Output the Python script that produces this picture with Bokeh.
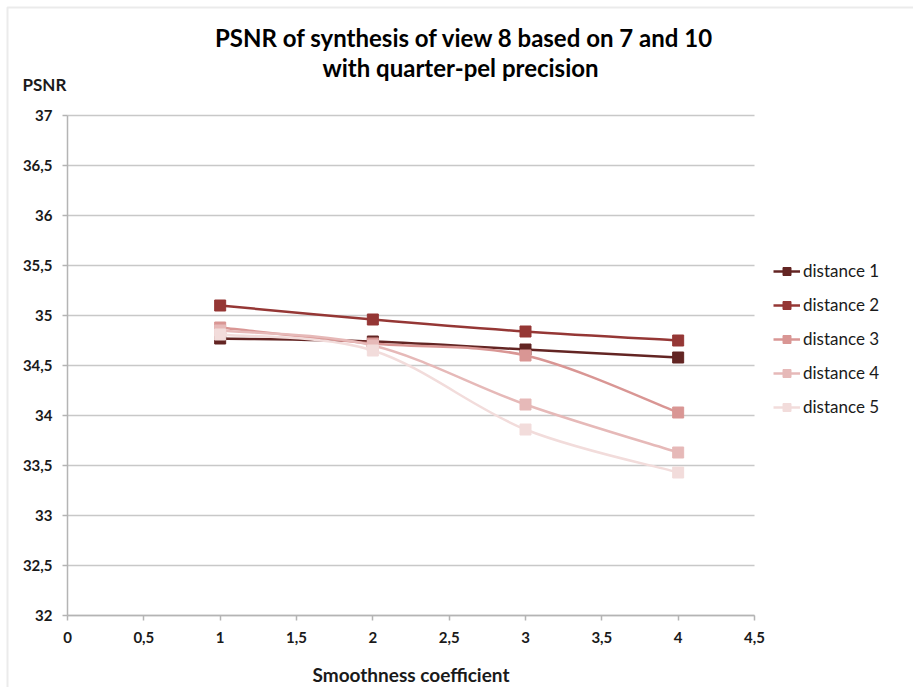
import numpy as np
from bokeh.plotting import figure
from bokeh.models import (Range1d, FixedTicker, Legend, LegendItem, Label,
                          BoxAnnotation, ColumnDataSource)
from bokeh.embed import file_html
from bokeh.resources import INLINE

# ---------------- data ----------------
title_line1 = "PSNR of synthesis of view 8 based on 7 and 10"
title_line2 = "with quarter-pel precision"
x_label = "Smoothness coefficient"
y_label = "PSNR"

smoothness = [1, 2, 3, 4]
series_names = ["distance 1", "distance 2", "distance 3", "distance 4", "distance 5"]
distance_1 = [34.77, 34.74, 34.66, 34.58]
distance_2 = [35.10, 34.96, 34.84, 34.75]
distance_3 = [34.88, 34.72, 34.60, 34.03]
distance_4 = [34.85, 34.70, 34.11, 33.63]
distance_5 = [34.81, 34.65, 33.86, 33.43]
series_values = [distance_1, distance_2, distance_3, distance_4, distance_5]
colors = ["#632523", "#953735", "#d99694", "#e6b9b8", "#f2dcdb"]

x_ticks = [0, 0.5, 1, 1.5, 2, 2.5, 3, 3.5, 4, 4.5]
x_tick_labels = ["0", "0,5", "1", "1,5", "2", "2,5", "3", "3,5", "4", "4,5"]
y_ticks = [32, 32.5, 33, 33.5, 34, 34.5, 35, 35.5, 36, 36.5, 37]
y_tick_labels = ["32", "32,5", "33", "33,5", "34", "34,5", "35", "35,5", "36", "36,5", "37"]

# ---------------- layout (pixels) ----------------
W, H = 913, 687
AX_L, AX_R, AX_T, AX_B = 67, 754, 115, 615   # plotting area inside the canvas
FONT = "Lato"
TXT = "#1a1a1a"

x0, x1 = x_ticks[0], x_ticks[-1]
y0, y1 = y_ticks[0], y_ticks[-1]
xpp = (x1 - x0) / (AX_R - AX_L)
ypp = (y1 - y0) / (AX_B - AX_T)

# the frame covers the whole canvas; axes are pinned at the data origin
p = figure(width=W, height=H, output_backend="svg", toolbar_location=None,
           x_range=Range1d(x0 - AX_L * xpp, x1 + (W - AX_R) * xpp),
           y_range=Range1d(y0 - (H - AX_B) * ypp, y1 + AX_T * ypp),
           min_border=0, title_location=None)
p.outline_line_color = None
p.background_fill_color = "white"
p.border_fill_color = "white"
p.xgrid.visible = False
p.ygrid.visible = False

for ax in (p.xaxis[0], p.yaxis[0]):
    ax.axis_line_color = "#b4b4b4"
    ax.axis_line_width = 1.5
    ax.major_tick_line_color = "#b4b4b4"
    ax.major_tick_line_width = 1.5
    ax.minor_tick_line_color = None
    ax.major_tick_in = 0
    ax.major_tick_out = 5
    ax.major_label_text_font = FONT
    ax.major_label_text_font_style = "bold"
    ax.major_label_text_font_size = "15px"
    ax.major_label_text_color = TXT

p.xaxis.fixed_location = y0
p.xaxis.bounds = (x0, x1)
p.xaxis.ticker = FixedTicker(ticks=x_ticks)
p.xaxis.major_label_overrides = {t: l for t, l in zip(x_ticks, x_tick_labels)}
p.xaxis.major_label_standoff = 11
p.xaxis.axis_label = x_label
p.xaxis.axis_label_text_font = FONT
p.xaxis.axis_label_text_font_style = "bold"
p.xaxis.axis_label_text_font_size = "19px"
p.xaxis.axis_label_text_color = TXT
p.xaxis.axis_label_standoff = 17

p.yaxis.fixed_location = x0
p.yaxis.bounds = (y0, y1)
p.yaxis.ticker = FixedTicker(ticks=y_ticks)
p.yaxis.major_label_overrides = {t: l for t, l in zip(y_ticks, y_tick_labels)}
p.yaxis.major_label_standoff = 10

# horizontal gridlines limited to the plotting area
p.segment(x0=[x0] * len(y_ticks), x1=[x1] * len(y_ticks), y0=y_ticks, y1=y_ticks,
          line_color="#c8c8c8", line_width=1.5, level="underlay")


def smooth_controls(xs, ys):
    """Cubic Bezier control points (Catmull-Rom) through the data points."""
    xs = np.asarray(xs, float)
    ys = np.asarray(ys, float)
    n = len(xs)
    px = np.concatenate([[xs[0]], xs, [xs[-1]]])
    py = np.concatenate([[ys[0]], ys, [ys[-1]]])
    out = dict(x0=[], y0=[], x1=[], y1=[], cx0=[], cy0=[], cx1=[], cy1=[])
    for i in range(n - 1):
        j = i + 1
        out["x0"].append(px[j]); out["y0"].append(py[j])
        out["x1"].append(px[j + 1]); out["y1"].append(py[j + 1])
        out["cx0"].append(px[j] + (px[j + 1] - px[j - 1]) / 6)
        out["cy0"].append(py[j] + (py[j + 1] - py[j - 1]) / 6)
        out["cx1"].append(px[j + 1] - (px[j + 2] - px[j]) / 6)
        out["cy1"].append(py[j + 1] - (py[j + 2] - py[j]) / 6)
    return out


items = []
for name, vals, col in zip(series_names, series_values, colors):
    bsrc = ColumnDataSource(smooth_controls(smoothness, vals))
    b = p.bezier(x0="x0", y0="y0", x1="x1", y1="y1", cx0="cx0", cy0="cy0",
                 cx1="cx1", cy1="cy1", source=bsrc, line_color=col, line_width=2.5)
    s = p.scatter(x=smoothness, y=vals, marker="square", size=11,
                  fill_color=col, line_color=col)
    items.append(LegendItem(label=name, renderers=[b, s]))

legend = Legend(items=items, location=(773, H - 417), orientation="vertical",
                label_text_font=FONT, label_text_font_size="17px",
                label_text_color=TXT, glyph_width=27, glyph_height=20,
                label_height=20, spacing=13, label_standoff=3,
                padding=0, margin=0, border_line_color=None,
                background_fill_alpha=0)
p.add_layout(legend, "center")

# titles and y-axis caption (screen units: from left, from bottom)
p.add_layout(Label(x=464, y=H - 37, x_units="screen", y_units="screen",
                   text=title_line1, text_align="center",
                   text_baseline="alphabetic", text_font=FONT,
                   text_font_style="bold", text_font_size="24px",
                   text_color="#000000"))
p.add_layout(Label(x=460, y=H - 67, x_units="screen", y_units="screen",
                   text=title_line2, text_align="center",
                   text_baseline="alphabetic", text_font=FONT,
                   text_font_style="bold", text_font_size="24px",
                   text_color="#000000"))
p.add_layout(Label(x=22, y=H - 84, x_units="screen", y_units="screen",
                   text=y_label, text_align="left",
                   text_baseline="alphabetic", text_font=FONT,
                   text_font_style="bold", text_font_size="17px",
                   text_color=TXT))

# outer chart border (top and left edges visible)
p.add_layout(BoxAnnotation(left=7, right=W + 20, top=H - 7, bottom=-20,
                           left_units="screen", right_units="screen",
                           top_units="screen", bottom_units="screen",
                           fill_alpha=0, line_color="#bdbdbd", line_width=2))

open("out.html", "w").write(file_html(p, INLINE))
